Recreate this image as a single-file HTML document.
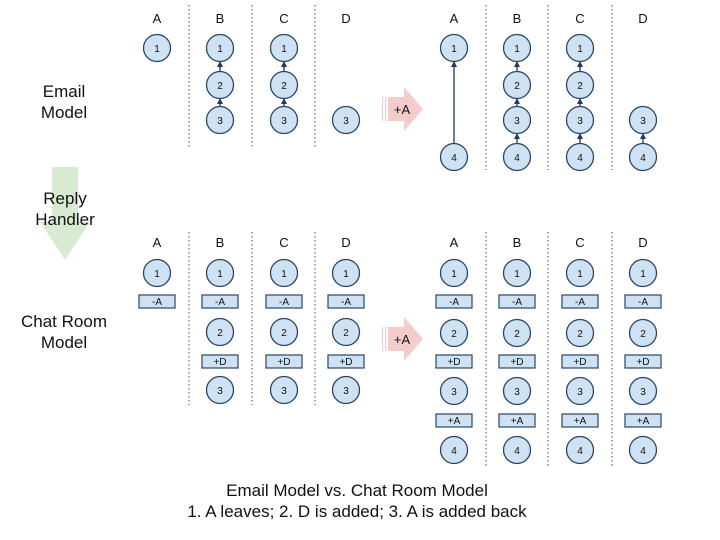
<!DOCTYPE html>
<html><head><meta charset="utf-8"><style>
html,body{margin:0;padding:0;background:#fff;}
svg{display:block;font-family:"Liberation Sans",Arial,sans-serif;}
.c{fill:#cfe2f3;stroke:#2b4566;stroke-width:1.3}
.b{fill:#cfe2f3;stroke:#2b4566;stroke-width:1.2}
.n{font-size:10px;text-anchor:middle;fill:#111}
.h{font-size:13px;text-anchor:middle;fill:#111}
.l{font-size:17px;text-anchor:middle;fill:#111}
.d{stroke:#7f8c9a;stroke-width:1.5;stroke-dasharray:1.5 2.5}
.a{stroke:#1f3a6a;stroke-width:1.3;marker-end:url(#ah)}
</style></head><body>
<svg width="720" height="540" viewBox="0 0 720 540" xmlns="http://www.w3.org/2000/svg">
<defs><marker id="ah" markerWidth="6" markerHeight="6" refX="5" refY="3" orient="auto" markerUnits="userSpaceOnUse"><path d="M0,0 L6,3 L0,6 z" fill="#1f3a6a"/></marker>
<g id="ci"><circle r="13.5" class="c"/></g></defs>

<!-- side labels -->
<text class="l" x="64" y="97">Email</text><text class="l" x="64" y="118">Model</text>
<path d="M52,167 H78 V222 H90 L65,260 L40,222 H52 Z" fill="#d9ead3"/>
<text class="l" x="65" y="204">Reply</text><text class="l" x="65" y="225">Handler</text>
<text class="l" x="64" y="327">Chat Room</text><text class="l" x="64" y="348">Model</text>

<!-- pink arrows -->
<g fill="#f4cccc">
<path d="M388,97 H404 V87 L423,109 L404,131 V121 H388 Z"/>
<rect x="382" y="97" width="1.2" height="24"/><rect x="385" y="97" width="1.2" height="24"/>
<path d="M388,327 H404 V317 L423,339 L404,361 V351 H388 Z"/>
<rect x="382" y="327" width="1.2" height="24"/><rect x="385" y="327" width="1.2" height="24"/>
</g>
<text class="h" x="402" y="114">+A</text><text class="h" x="402" y="344">+A</text>

<!-- dividers -->
<g class="d">
<line x1="189" y1="5" x2="189" y2="148"/><line x1="252" y1="5" x2="252" y2="148"/><line x1="315" y1="5" x2="315" y2="148"/>
<line x1="486" y1="5" x2="486" y2="170"/><line x1="548" y1="5" x2="548" y2="170"/><line x1="612" y1="5" x2="612" y2="170"/>
<line x1="189" y1="232" x2="189" y2="405"/><line x1="252" y1="232" x2="252" y2="405"/><line x1="315" y1="232" x2="315" y2="405"/>
<line x1="486" y1="232" x2="486" y2="468"/><line x1="548" y1="232" x2="548" y2="468"/><line x1="612" y1="232" x2="612" y2="468"/>
</g>

<!-- headers -->
<g class="h">
<text x="157" y="23">A</text><text x="220" y="23">B</text><text x="284" y="23">C</text><text x="346" y="23">D</text>
<text x="454" y="23">A</text><text x="517" y="23">B</text><text x="580" y="23">C</text><text x="643" y="23">D</text>
<text x="157" y="247">A</text><text x="220" y="247">B</text><text x="284" y="247">C</text><text x="346" y="247">D</text>
<text x="454" y="247">A</text><text x="517" y="247">B</text><text x="580" y="247">C</text><text x="643" y="247">D</text>
</g>

<!-- top arrows -->
<g class="a">
<line x1="220" y1="71" x2="220" y2="62"/><line x1="220" y1="106" x2="220" y2="99"/>
<line x1="284" y1="71" x2="284" y2="62"/><line x1="284" y1="106" x2="284" y2="99"/>
<line x1="454" y1="143" x2="454" y2="62"/>
<line x1="517" y1="71" x2="517" y2="62"/><line x1="517" y1="106" x2="517" y2="99"/><line x1="517" y1="143" x2="517" y2="134"/>
<line x1="580" y1="71" x2="580" y2="62"/><line x1="580" y1="106" x2="580" y2="99"/><line x1="580" y1="143" x2="580" y2="134"/>
<line x1="643" y1="143" x2="643" y2="134"/>
</g>

<!-- top circles -->
<g>
<circle cx="157" cy="48" r="13.5" class="c"/>
<circle cx="220" cy="48" r="13.5" class="c"/><circle cx="220" cy="85" r="13.5" class="c"/><circle cx="220" cy="120" r="13.5" class="c"/>
<circle cx="284" cy="48" r="13.5" class="c"/><circle cx="284" cy="85" r="13.5" class="c"/><circle cx="284" cy="120" r="13.5" class="c"/>
<circle cx="346" cy="120" r="13.5" class="c"/>
<circle cx="454" cy="48" r="13.5" class="c"/><circle cx="454" cy="157" r="13.5" class="c"/>
<circle cx="517" cy="48" r="13.5" class="c"/><circle cx="517" cy="85" r="13.5" class="c"/><circle cx="517" cy="120" r="13.5" class="c"/><circle cx="517" cy="157" r="13.5" class="c"/>
<circle cx="580" cy="48" r="13.5" class="c"/><circle cx="580" cy="85" r="13.5" class="c"/><circle cx="580" cy="120" r="13.5" class="c"/><circle cx="580" cy="157" r="13.5" class="c"/>
<circle cx="643" cy="120" r="13.5" class="c"/><circle cx="643" cy="157" r="13.5" class="c"/>
</g>
<g class="n">
<text x="157" y="52">1</text>
<text x="220" y="52">1</text><text x="220" y="89">2</text><text x="220" y="124">3</text>
<text x="284" y="52">1</text><text x="284" y="89">2</text><text x="284" y="124">3</text>
<text x="346" y="124">3</text>
<text x="454" y="52">1</text><text x="454" y="161">4</text>
<text x="517" y="52">1</text><text x="517" y="89">2</text><text x="517" y="124">3</text><text x="517" y="161">4</text>
<text x="580" y="52">1</text><text x="580" y="89">2</text><text x="580" y="124">3</text><text x="580" y="161">4</text>
<text x="643" y="124">3</text><text x="643" y="161">4</text>
</g>

<!-- bottom left -->
<g>
<circle cx="157" cy="273" r="13.5" class="c"/><rect x="139" y="295" width="36" height="13" class="b"/>
<circle cx="220" cy="273" r="13.5" class="c"/><rect x="202" y="295" width="36" height="13" class="b"/><circle cx="220" cy="332" r="13.5" class="c"/><rect x="202" y="355" width="36" height="13" class="b"/><circle cx="220" cy="390" r="13.5" class="c"/>
<circle cx="284" cy="273" r="13.5" class="c"/><rect x="266" y="295" width="36" height="13" class="b"/><circle cx="284" cy="332" r="13.5" class="c"/><rect x="266" y="355" width="36" height="13" class="b"/><circle cx="284" cy="390" r="13.5" class="c"/>
<circle cx="346" cy="273" r="13.5" class="c"/><rect x="328" y="295" width="36" height="13" class="b"/><circle cx="346" cy="332" r="13.5" class="c"/><rect x="328" y="355" width="36" height="13" class="b"/><circle cx="346" cy="390" r="13.5" class="c"/>
</g>
<g class="n">
<text x="157" y="277">1</text><text x="157" y="305">-A</text>
<text x="220" y="277">1</text><text x="220" y="305">-A</text><text x="220" y="336">2</text><text x="220" y="365">+D</text><text x="220" y="394">3</text>
<text x="284" y="277">1</text><text x="284" y="305">-A</text><text x="284" y="336">2</text><text x="284" y="365">+D</text><text x="284" y="394">3</text>
<text x="346" y="277">1</text><text x="346" y="305">-A</text><text x="346" y="336">2</text><text x="346" y="365">+D</text><text x="346" y="394">3</text>
</g>

<!-- bottom right -->
<g>
<circle cx="454" cy="273" r="13.5" class="c"/><rect x="436" y="295" width="36" height="13" class="b"/><circle cx="454" cy="333" r="13.5" class="c"/><rect x="436" y="355" width="36" height="13" class="b"/><circle cx="454" cy="391" r="13.5" class="c"/><rect x="436" y="414" width="36" height="13" class="b"/><circle cx="454" cy="450" r="13.5" class="c"/>
<circle cx="517" cy="273" r="13.5" class="c"/><rect x="499" y="295" width="36" height="13" class="b"/><circle cx="517" cy="333" r="13.5" class="c"/><rect x="499" y="355" width="36" height="13" class="b"/><circle cx="517" cy="391" r="13.5" class="c"/><rect x="499" y="414" width="36" height="13" class="b"/><circle cx="517" cy="450" r="13.5" class="c"/>
<circle cx="580" cy="273" r="13.5" class="c"/><rect x="562" y="295" width="36" height="13" class="b"/><circle cx="580" cy="333" r="13.5" class="c"/><rect x="562" y="355" width="36" height="13" class="b"/><circle cx="580" cy="391" r="13.5" class="c"/><rect x="562" y="414" width="36" height="13" class="b"/><circle cx="580" cy="450" r="13.5" class="c"/>
<circle cx="643" cy="273" r="13.5" class="c"/><rect x="625" y="295" width="36" height="13" class="b"/><circle cx="643" cy="333" r="13.5" class="c"/><rect x="625" y="355" width="36" height="13" class="b"/><circle cx="643" cy="391" r="13.5" class="c"/><rect x="625" y="414" width="36" height="13" class="b"/><circle cx="643" cy="450" r="13.5" class="c"/>
</g>
<g class="n">
<text x="454" y="277">1</text><text x="454" y="305">-A</text><text x="454" y="337">2</text><text x="454" y="365">+D</text><text x="454" y="395">3</text><text x="454" y="424">+A</text><text x="454" y="454">4</text>
<text x="517" y="277">1</text><text x="517" y="305">-A</text><text x="517" y="337">2</text><text x="517" y="365">+D</text><text x="517" y="395">3</text><text x="517" y="424">+A</text><text x="517" y="454">4</text>
<text x="580" y="277">1</text><text x="580" y="305">-A</text><text x="580" y="337">2</text><text x="580" y="365">+D</text><text x="580" y="395">3</text><text x="580" y="424">+A</text><text x="580" y="454">4</text>
<text x="643" y="277">1</text><text x="643" y="305">-A</text><text x="643" y="337">2</text><text x="643" y="365">+D</text><text x="643" y="395">3</text><text x="643" y="424">+A</text><text x="643" y="454">4</text>
</g>

<!-- caption -->
<text class="l" x="357" y="496">Email Model vs. Chat Room Model</text>
<text class="l" x="357" y="517">1. A leaves; 2. D is added; 3. A is added back</text>
</svg>
</body></html>
